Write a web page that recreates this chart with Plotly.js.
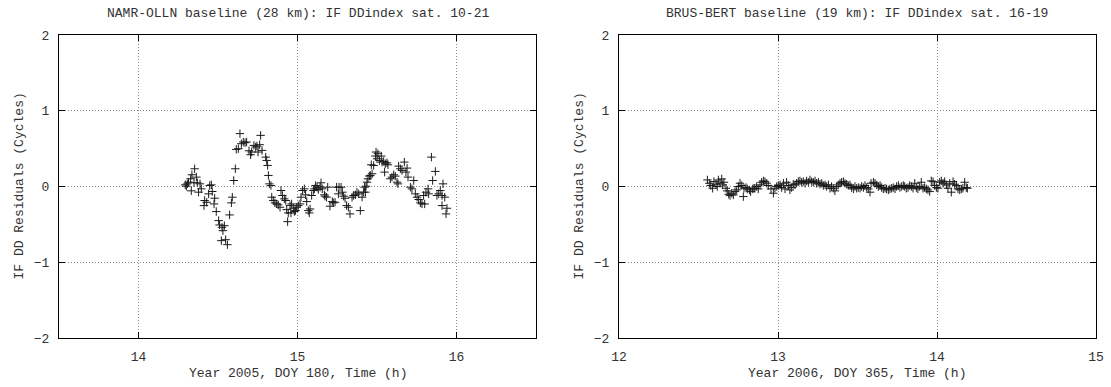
<!DOCTYPE html>
<html>
<head>
<meta charset="utf-8">
<script src="https://cdn.plot.ly/plotly-3.0.1.min.js"></script>
<style>
html,body{margin:0;padding:0;background:#fff;}
#chart{width:1111px;height:387px;}
</style>
</head>
<body>
<div id="chart"></div>
<script>
// ---- Left panel: NAMR-OLLN, DOY 180 2005 ----
const leftTime = [
14.294,14.301,14.307,14.315,14.328,14.332,14.336,14.349,14.353,14.364,14.370,14.378,14.387,14.395,
14.412,14.416,14.429,14.441,14.448,14.458,14.464,14.475,14.479,14.489,14.504,14.510,14.521,14.525,
14.531,14.540,14.548,14.559,14.573,14.584,14.590,14.599,14.609,14.615,14.628,14.638,14.647,14.659,
14.670,14.680,14.695,14.705,14.712,14.726,14.737,14.745,14.752,14.762,14.768,14.777,
14.800,14.806,14.812,14.817,14.823,14.833,14.838,14.848,14.858,14.869,14.879,14.890,14.896,14.905,
14.917,14.926,14.932,14.938,14.942,14.953,14.959,14.963,14.974,14.980,14.988,14.995,15.005,15.016,
15.022,15.032,15.043,15.051,15.058,15.068,15.074,15.079,15.089,15.100,15.106,15.114,15.123,15.131,
15.142,15.148,15.156,15.169,15.173,15.183,15.190,15.204,15.219,15.225,15.236,15.246,15.257,15.261,
15.274,15.282,15.290,15.299,15.309,15.320,15.330,
15.343,15.353,15.364,15.374,15.385,15.395,15.406,15.416,15.422,15.427,15.431,15.437,15.443,15.452,
15.458,15.464,15.469,15.479,15.490,15.494,15.500,15.506,15.515,15.527,15.532,15.542,15.548,15.552,
15.563,15.569,15.584,15.594,15.605,15.615,15.626,15.632,15.636,15.647,15.657,15.672,15.682,15.689,
15.695,15.710,15.720,15.731,15.741,15.752,15.762,15.773,15.783,15.793,15.800,15.808,15.821,15.825,
15.842,15.850,15.867,15.877,15.888,15.898,15.909,15.909,15.915,15.926,15.934,15.940
];
const leftResidual = [
0.022,0.004,0.035,0.057,0.102,-0.057,0.155,0.049,0.234,0.124,0.049,-0.075,0.035,-0.031,
-0.252,-0.185,-0.208,-0.097,0.013,0.022,-0.066,-0.230,-0.155,-0.331,-0.450,-0.508,-0.715,-0.539,
-0.583,-0.517,-0.702,-0.768,-0.375,-0.216,-0.141,0.079,0.234,0.490,0.499,0.698,0.565,0.587,
0.578,0.587,0.472,0.419,0.455,0.543,0.521,0.534,0.455,0.552,0.675,0.477,
0.388,0.344,0.278,0.146,0.035,0.013,-0.141,-0.185,-0.216,-0.230,-0.243,-0.274,-0.053,-0.119,
-0.163,-0.185,-0.305,-0.464,-0.349,-0.252,-0.349,-0.230,-0.287,-0.331,-0.318,-0.274,-0.252,-0.230,
-0.141,-0.053,-0.031,-0.110,-0.199,-0.318,-0.349,-0.296,-0.119,-0.053,-0.031,0.013,-0.009,-0.040,
-0.009,0.049,-0.031,-0.110,-0.128,-0.141,-0.009,-0.260,-0.199,-0.216,-0.208,-0.009,-0.097,-0.009,
-0.009,-0.075,-0.128,-0.155,-0.252,-0.274,-0.362,
-0.141,-0.119,-0.110,-0.075,-0.097,-0.318,-0.141,-0.075,-0.009,-0.075,0.004,0.057,0.102,0.137,
0.146,0.287,0.168,0.278,0.402,0.455,0.366,0.433,0.344,0.402,0.322,0.331,0.190,0.300,
0.313,0.287,0.102,0.124,0.155,0.137,0.057,0.035,0.269,0.234,0.212,0.322,0.190,0.243,
0.124,-0.009,-0.031,0.079,-0.097,-0.141,-0.172,-0.216,-0.230,-0.119,-0.230,-0.075,-0.031,-0.097,
0.388,0.079,0.199,-0.119,-0.097,-0.053,-0.119,-0.252,0.035,-0.141,-0.362,-0.287
];

// ---- Right panel: BRUS-BERT, DOY 365 2006 ----
const rightTime = [
12.556,12.568,12.577,12.589,12.597,12.610,12.618,12.625,12.635,12.646,12.652,12.660,12.673,12.681,
12.690,12.698,12.709,12.719,12.730,12.740,12.751,12.761,12.772,12.782,12.786,12.799,12.807,12.820,
12.828,12.841,12.849,
12.855,12.866,12.876,12.887,12.897,12.908,12.918,12.929,12.939,12.956,12.971,12.981,12.992,13.002,
13.013,13.023,13.034,13.044,13.054,13.065,13.075,13.086,13.096,13.107,13.117,13.128,13.138,13.149,
13.159,13.170,13.180,13.191,13.201,13.212,13.222,13.233,13.243,13.254,13.264,13.275,13.285,13.296,
13.306,13.317,13.327,13.337,13.348,13.358,13.369,13.379,13.390,13.400,13.411,13.421,13.432,13.442,
13.453,13.463,13.474,13.484,13.495,13.505,13.516,13.526,13.537,13.547,13.558,13.568,13.579,13.585,
13.600,13.610,13.621,13.631,13.642,13.652,13.662,13.673,13.683,13.694,13.704,13.715,13.725,13.736,
13.746,13.757,13.767,13.778,13.788,
13.797,13.807,13.818,13.828,13.839,13.849,13.860,13.870,13.880,13.891,13.901,13.912,13.922,13.933,
13.943,13.954,13.964,13.975,13.985,13.996,14.006,14.017,14.027,14.038,14.048,14.059,14.069,14.080,
14.090,14.101,14.111,14.122,14.132,14.143,14.153,14.163,14.174,14.184,14.191
];
const rightResidual = [
0.087,0.043,0.013,-0.023,0.065,0.030,0.000,0.087,0.043,0.100,0.021,0.056,-0.023,-0.058,
-0.102,-0.120,-0.089,-0.111,-0.067,-0.045,0.000,0.043,0.013,-0.133,-0.023,-0.014,-0.032,-0.045,
-0.067,-0.032,-0.023,
-0.023,0.000,-0.032,0.021,0.056,0.074,0.065,0.043,0.013,-0.032,-0.089,-0.023,0.000,0.013,
0.021,-0.014,0.043,-0.032,0.056,0.013,-0.045,-0.014,0.030,0.021,0.043,0.065,0.074,0.056,
0.065,0.043,0.074,0.056,0.087,0.065,0.056,0.074,0.043,0.056,0.030,0.043,0.013,0.021,
0.000,0.021,-0.023,0.000,-0.023,-0.058,0.000,0.021,0.043,0.056,0.065,0.043,0.030,0.013,
0.021,-0.014,-0.032,0.000,-0.023,-0.014,-0.023,0.000,-0.014,0.013,-0.014,-0.032,-0.075,0.043,
0.056,0.043,0.021,0.000,0.013,-0.014,-0.032,-0.023,-0.032,-0.045,-0.032,-0.023,-0.014,-0.032,
0.000,0.013,-0.014,0.000,0.013,
0.000,-0.023,-0.014,0.013,0.000,-0.023,0.043,-0.014,-0.032,0.000,0.056,-0.023,-0.014,-0.032,
-0.045,-0.067,0.074,0.065,0.013,-0.014,-0.023,0.056,0.074,0.043,0.065,0.021,-0.023,0.043,
-0.075,0.065,0.030,0.013,-0.032,-0.045,-0.032,-0.023,0.056,-0.014,-0.023
];

const leftTicks = [14, 15, 16];
const rightTicks = [12, 13, 14, 15];
const yTicks = [-2, -1, 0, 1, 2];

const leftTitle = 'NAMR-OLLN baseline (28 km): IF DDindex sat. 10-21';
const rightTitle = 'BRUS-BERT baseline (19 km): IF DDindex sat. 16-19';
const leftXLabel = 'Year 2005, DOY 180, Time (h)';
const rightXLabel = 'Year 2006, DOY 365, Time (h)';
const yLabel = 'IF DD Residuals (Cycles)';

const FONT = '"Courier New", "Liberation Mono", monospace';
const W = 1111, H = 387;
const px = v => v / W, py = v => 1 - v / H;

const marker = {symbol: 'cross-thin-open', size: 6, color: '#1a1a1a', line: {color: '#1a1a1a', width: 1}};

const traces = [
  {x: leftTime, y: leftResidual, type: 'scatter', mode: 'markers', marker: marker, xaxis: 'x', yaxis: 'y', hoverinfo: 'x+y'},
  {x: rightTime, y: rightResidual, type: 'scatter', mode: 'markers', marker: marker, xaxis: 'x2', yaxis: 'y2', hoverinfo: 'x+y'}
];

function axisBase() {
  return {
    showgrid: true, gridcolor: '#8c8c8c', griddash: '1px,2px', gridwidth: 1,
    showline: true, linecolor: '#000', linewidth: 1, mirror: 'ticks',
    ticks: 'inside', ticklen: 6, tickcolor: '#000', tickwidth: 1,
    zeroline: false, fixedrange: true,
    tickfont: {family: FONT, size: 13, color: '#333'}
  };
}

const xa = Object.assign(axisBase(), {range: [13.5, 16.5], tickvals: leftTicks, domain: [px(59), px(536)], anchor: 'y', ticklabelstandoff: 6});
const xa2 = Object.assign(axisBase(), {range: [12, 15], tickvals: rightTicks, domain: [px(619), px(1096)], anchor: 'y2', ticklabelstandoff: 6});
const ya = Object.assign(axisBase(), {range: [-2, 2], tickvals: yTicks, domain: [py(338), py(35)], anchor: 'x', ticklabelstandoff: 6});
const ya2 = Object.assign(axisBase(), {range: [-2, 2], tickvals: yTicks, domain: [py(338), py(35)], anchor: 'x2', ticklabelstandoff: 6});

const annFont = {family: FONT, size: 13, color: '#333'};
const annotations = [
  {text: leftTitle, xref: 'paper', yref: 'paper', x: px(297.5), y: py(14), showarrow: false, xanchor: 'center', yanchor: 'middle', font: annFont},
  {text: rightTitle, xref: 'paper', yref: 'paper', x: px(857.5), y: py(14), showarrow: false, xanchor: 'center', yanchor: 'middle', font: annFont},
  {text: leftXLabel, xref: 'paper', yref: 'paper', x: px(297.5), y: py(373), showarrow: false, xanchor: 'center', yanchor: 'middle', font: annFont},
  {text: rightXLabel, xref: 'paper', yref: 'paper', x: px(857.5), y: py(373), showarrow: false, xanchor: 'center', yanchor: 'middle', font: annFont},
  {text: yLabel, xref: 'paper', yref: 'paper', x: px(19), y: py(186.5), showarrow: false, textangle: -90, xanchor: 'center', yanchor: 'middle', font: annFont},
  {text: yLabel, xref: 'paper', yref: 'paper', x: px(579), y: py(186.5), showarrow: false, textangle: -90, xanchor: 'center', yanchor: 'middle', font: annFont}
];

const layout = {
  width: W, height: H,
  margin: {l: 0, r: 0, t: 0, b: 0, pad: 0},
  paper_bgcolor: '#fff', plot_bgcolor: '#fff',
  showlegend: false,
  xaxis: xa, yaxis: ya, xaxis2: xa2, yaxis2: ya2,
  annotations: annotations,
  font: {family: FONT, size: 13, color: '#333'}
};

Plotly.newPlot('chart', traces, layout, {displayModeBar: false, staticPlot: true});
</script>
</body>
</html>
